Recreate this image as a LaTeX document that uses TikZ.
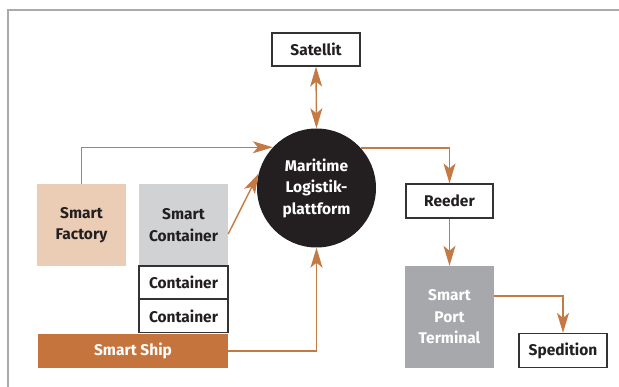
\documentclass[tikz,border=0pt]{standalone}
\usepackage{fontspec}
\setmainfont{Fira Sans}
\usetikzlibrary{arrows.meta}
\definecolor{org}{HTML}{C47A45}
\definecolor{shipc}{HTML}{C4743C}
\definecolor{facc}{HTML}{EBCDB5}
\definecolor{contc}{HTML}{D1D2D4}
\definecolor{portc}{HTML}{A7A8AB}
\definecolor{platc}{HTML}{231F20}
\definecolor{framec}{HTML}{AAAAAA}
\begin{document}
\begin{tikzpicture}[x=1pt,y=-1pt,
  font=\bfseries\fontsize{15.5}{21.5}\selectfont,
  every node/.style={inner sep=0pt, align=center, text=platc},
  box/.style={draw=black!80, line width=1.2pt, fill=white, minimum height=33pt},
  filled/.style={minimum width=89pt},
  tip/.tip={Stealth[length=20pt,width=12pt,inset=5pt]},
  conn/.style={draw=org, line width=1.4pt, -tip}]
\useasboundingbox (0,0) rectangle (619,387);
\draw[framec, line width=1.2pt] (8,387) -- (8,10) -- (619,10);

\node[box, minimum width=88pt] (sat) at (316,49.5) {Satellit};
\node[circle, fill=platc, minimum size=119pt, text=white] (plat) at (316.5,188) {Maritime\\Logistik-\\plattform};
\node[filled, fill=facc, minimum height=82pt] (fac) at (81.5,225) {Smart\\Factory};
\node[filled, fill=contc, minimum height=82pt] (cont) at (183.5,225) {Smart\\Container};
\node[box, minimum width=89pt] (c1) at (183.5,282.5) {Container};
\node[box, minimum width=89pt] (c2) at (183.5,316) {Container};
\node[fill=shipc, minimum width=190pt, minimum height=34pt, text=white] (ship) at (133,351) {Smart Ship};
\node[box, minimum width=87pt, minimum height=34pt] (reed) at (449.5,201) {Reeder};
\node[filled, fill=portc, minimum height=102pt, text=white] (port) at (449.5,317) {Smart\\Port\\Terminal};
\node[box, minimum width=88pt, minimum height=34pt] (sped) at (563,350.5) {Spedition};

\draw[conn, tip-tip] (sat.south) -- (plat.north);
\draw[conn] (fac.north) |- (plat.137.7);
\draw[conn] ([yshift=-9pt]cont.east) -- (plat.166);
\draw[conn] (ship.east) -| (plat.south);
\draw[conn] (plat.42.3) -| (reed.north);
\draw[conn] (reed.south) -- (port.north);
\draw[conn] ([yshift=21pt]port.east) -| (sped.north);
\end{tikzpicture}
\end{document}
